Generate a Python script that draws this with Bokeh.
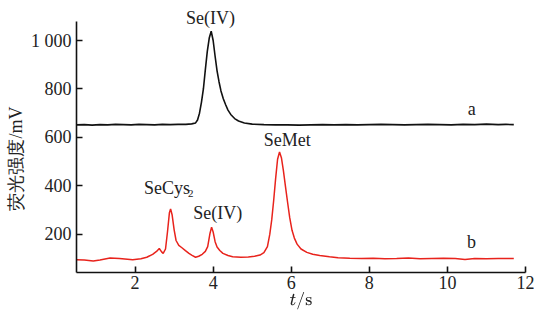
from bokeh.plotting import figure
from bokeh.models import Label, FixedTicker, Range1d
from bokeh.embed import file_html
from bokeh.resources import INLINE

# trace a (black)
ta_x = [0.5, 0.7, 0.9, 1.1, 1.3, 1.5, 1.7, 1.9, 2.1, 2.3, 2.5, 2.7, 2.9, 3.1, 3.3, 3.45, 3.55, 3.6, 3.65,
        3.7, 3.75, 3.8, 3.85, 3.9, 3.95, 4.0, 4.05, 4.1, 4.15, 4.2, 4.26, 4.32, 4.38, 4.45, 4.55, 4.65,
        4.8, 5.0, 5.3, 5.6, 5.9, 6.2, 6.5, 6.8, 7.1, 7.4, 7.7, 8.0, 8.3, 8.6, 8.9, 9.2, 9.5, 9.8, 10.1,
        10.4, 10.7, 11.0, 11.3, 11.5, 11.7]
ta_y = [652, 653, 651, 653, 652, 654, 653, 652, 654, 653, 652, 654, 653, 654, 654, 656, 660, 672, 700,
        745, 800, 880, 955, 1010, 1038, 1000, 935, 875, 830, 792, 760, 735, 713, 695, 678, 668,
        660, 655, 653, 652, 652, 651, 652, 653, 652, 653, 652, 653, 654, 653, 652, 653, 654, 653, 652,
        654, 653, 655, 653, 654, 653]

# trace b (red)
tb_x = [0.5, 0.7, 0.93, 1.1, 1.36, 1.6, 1.94, 2.15, 2.3, 2.45, 2.55, 2.62, 2.68, 2.72, 2.78, 2.83, 2.88,
        2.91, 2.95, 3.0, 3.05, 3.12, 3.2, 3.29, 3.38, 3.46, 3.55, 3.63, 3.72, 3.8, 3.86, 3.92, 3.96, 4.0,
        4.05, 4.1, 4.17, 4.25, 4.38, 4.5, 4.71, 4.9, 5.06, 5.2, 5.3, 5.39, 5.45, 5.5, 5.55, 5.6, 5.65,
        5.7, 5.75, 5.8, 5.85, 5.9, 5.96, 6.02, 6.08, 6.15, 6.25, 6.4, 6.55, 6.73, 6.98, 7.2, 7.5, 7.8,
        8.1, 8.4, 8.7, 9.0, 9.3, 9.6, 9.9, 10.2, 10.45, 10.7, 11.0, 11.3, 11.7]
tb_y = [96, 95, 90, 95, 103, 101, 96, 100, 106, 118, 130, 142, 128, 122, 140, 210, 290,
        305, 280, 220, 175, 155, 145, 133, 122, 114, 106, 110, 118, 130, 150, 205, 230, 210,
        170, 148, 134, 122, 113, 108, 106, 107, 110, 115, 125, 150, 200, 260, 340, 430, 510,
        540, 515, 462, 400, 340, 270, 217, 185, 160, 140, 126, 118, 113, 108, 104, 102, 101,
        102, 100, 101, 103, 100, 101, 102, 101, 97, 101, 100, 101, 101]

x_ticks = [2, 4, 6, 8, 10, 12]
y_ticks = [200, 400, 600, 800, 1000]
y_tick_labels = {1000: "1 000"}
y_axis_bounds = (43, 1078)

peak_labels = ["Se(IV)", "SeCys", "Se(IV)", "SeMet", "a", "b"]
peak_label_x = [3.93, 2.23, 4.12, 5.9, 10.62, 10.62]
peak_label_y = [1094, 392, 290, 588, 719, 168]
peak_label_align = ["center", "left", "center", "center", "center", "center"]

SERIF = "Liberation Serif"
FS = "18px"

p = figure(width=534, height=312, output_backend="svg", toolbar_location=None,
           x_range=Range1d(0.5, 12), y_range=Range1d(43, 1132),
           min_border_left=76, min_border_right=9, min_border_top=8, min_border_bottom=40)
p.outline_line_color = None
p.background_fill_color = "white"
p.border_fill_color = "white"
p.xgrid.visible = False
p.ygrid.visible = False

p.line(ta_x, ta_y, line_color="#111111", line_width=1.6)
p.line(tb_x, tb_y, line_color="#e8231c", line_width=1.5)

p.axis.axis_line_color = "#111111"
p.axis.axis_line_width = 1.6
p.axis.major_tick_line_color = "#111111"
p.axis.major_tick_line_width = 1.6
p.axis.major_tick_in = 6
p.axis.major_tick_out = 0
p.axis.minor_tick_line_color = None
p.axis.major_label_text_font_size = FS
p.axis.major_label_text_color = "#222222"
p.axis.major_label_text_font = SERIF
p.axis.major_label_text_font_style = "normal"

p.xaxis.ticker = FixedTicker(ticks=x_ticks)
p.yaxis.ticker = FixedTicker(ticks=y_ticks)
p.yaxis.bounds = y_axis_bounds
p.yaxis.major_label_overrides = y_tick_labels
p.xaxis.major_label_standoff = 3
p.yaxis.major_label_standoff = 5

p.yaxis.axis_label = "荧光强度/mV" + "\u00a0" * 8
p.yaxis.axis_label_text_font = SERIF
p.yaxis.axis_label_text_font_size = FS
p.yaxis.axis_label_text_font_style = "normal"
p.yaxis.axis_label_text_color = "#222222"
p.yaxis.axis_label_standoff = 2

p.xaxis.axis_label = r"$$t/\mathrm{s}$$"
p.xaxis.axis_label_text_font_size = "15px"
p.xaxis.axis_label_text_color = "#222222"
p.xaxis.axis_label_standoff = 0

for t, x, y, al in zip(peak_labels, peak_label_x, peak_label_y, peak_label_align):
    p.add_layout(Label(x=x, y=y, text=t, text_font=SERIF, text_font_size=FS,
                       text_color="#222222", text_align=al, text_baseline="middle"))
# subscript 2 of SeCys2
p.add_layout(Label(x=2.23, y=392, text="2", text_font=SERIF, text_font_size="11px",
                   text_color="#222222", text_align="left", text_baseline="middle",
                   x_offset=44, y_offset=-6))

open("out.html", "w").write(file_html(p, INLINE))
